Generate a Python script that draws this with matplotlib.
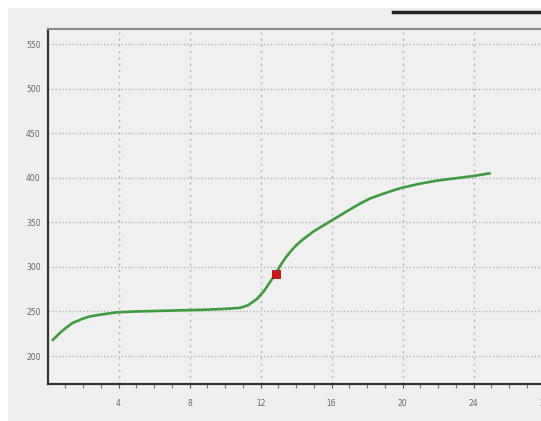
import matplotlib
matplotlib.use("Agg")
import matplotlib.pyplot as plt
from matplotlib.patches import Rectangle
from matplotlib.lines import Line2D

# curve values
time = [0.3, 0.7, 1.0, 1.4, 2.0, 2.4, 3.0, 3.9, 5, 6, 7, 7.9, 9, 10, 10.85,
        11.3, 11.8, 12.2, 12.5, 12.85, 13.1, 13.4, 13.7, 14.0, 14.4, 15, 15.5,
        16, 16.5, 17, 17.6, 18.2, 18.9, 19.5, 20, 21, 22, 23, 24, 24.9]
value = [218, 226, 231, 237, 242, 244.5, 246.5, 249, 250, 250.5, 251, 251.5,
         252, 253, 254, 257, 264, 273, 282, 292, 301, 310, 317.5, 324, 331,
         340, 346, 352, 358, 364, 371, 377, 382, 386, 389, 393.5, 397, 399.5,
         402, 405]

marker_x = [12.85]
marker_y = [292]

xticks = [4, 8, 12, 16, 20, 24, 28]
yticks = [200, 250, 300, 350, 400, 450, 500, 550]

W, H = 541, 421
fig = plt.figure(figsize=(W / 100, H / 100), dpi=100)
fig.patch.set_facecolor("white")

# gray panel behind everything
fig.patches.append(Rectangle((7.6 / W, 0), 1, 1 - 8 / H, transform=fig.transFigure,
                             facecolor="#efefef", edgecolor="none", zorder=-10))
fig.lines.append(Line2D([393 / W, 1], [1 - 11.5 / H, 1 - 11.5 / H],
                        transform=fig.transFigure, color="#222222", lw=2.5))

ax = fig.add_axes([47.5 / W, 37 / H, 532.5 / W, 355 / H])
ax.set_facecolor("#f0f0f0")

ax.plot(time, value, color="#3d9c3d", lw=1.9, zorder=3)
ax.plot(marker_x, marker_y, marker="s", markersize=5.5, markerfacecolor="#e01010",
        markeredgecolor="#802020", markeredgewidth=0.6, linestyle="none", zorder=4)

ax.set_xlim(0, 30)
ax.set_ylim(168.6, 567)
ax.set_xticks(xticks)
ax.set_yticks(yticks)
ax.set_xticks(range(1, 30), minor=True)
ax.tick_params(axis="x", which="major", length=3, width=0.8, color="#555555",
               labelsize=5.5, labelcolor="#666666", pad=8)
ax.tick_params(axis="x", which="minor", length=3, width=0.8, color="#777777")
ax.tick_params(axis="y", length=0, labelsize=5.5, labelcolor="#666666", pad=5)

ax.grid(True, axis="y", color="#b5b5b5", lw=1, linestyle=(0, (1, 1.5)))
ax.grid(True, axis="x", color="#b5b5b5", lw=1, linestyle=(0, (1.5, 3)))
ax.set_axisbelow(True)

ax.spines["left"].set_color("#333333")
ax.spines["left"].set_linewidth(1.6)
ax.spines["bottom"].set_color("#333333")
ax.spines["bottom"].set_linewidth(1.6)
ax.spines["top"].set_color("#8a8a8a")
ax.spines["top"].set_linewidth(1.5)
ax.spines["right"].set_visible(False)

fig.savefig("out.png", dpi=100)
